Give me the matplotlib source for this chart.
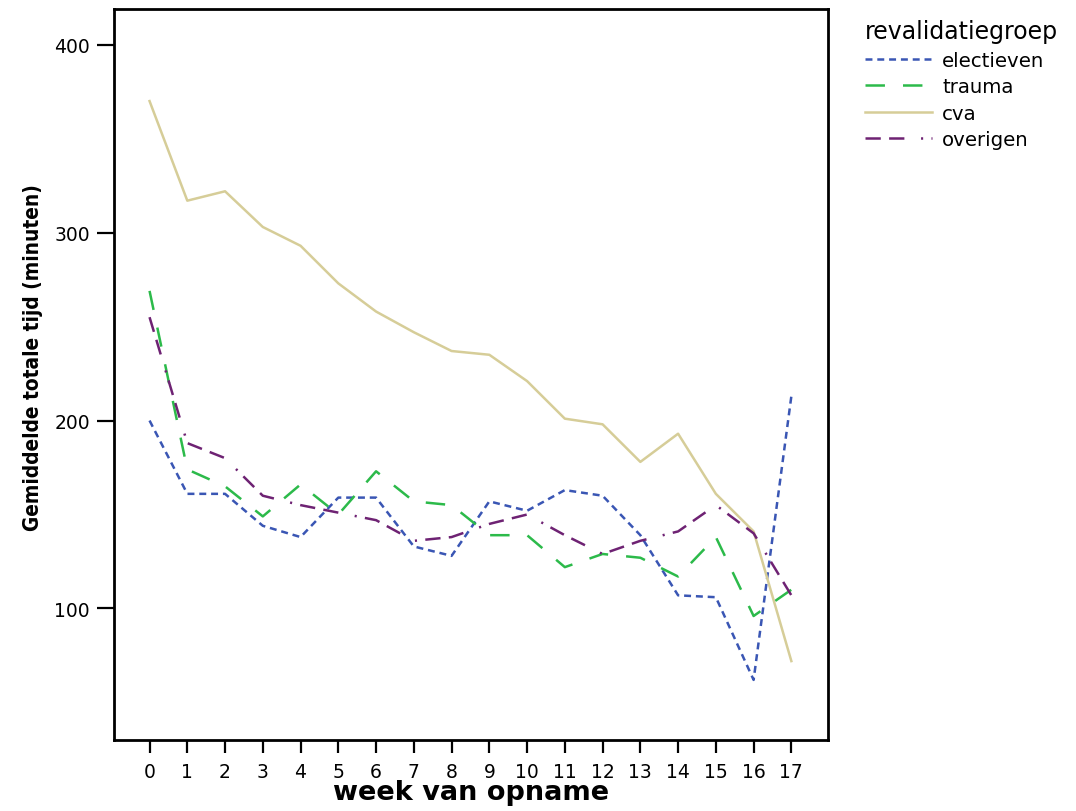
from matplotlib import font_manager
import matplotlib.pyplot as plt


WEEKS = list(range(18))
GROUPS = ['electieven', 'trauma', 'cva', 'overigen']

electieven = [200, 161, 161, 144, 138, 159, 159, 133, 128, 157,
              152, 163, 160, 139, 107, 106, 62, 213]
trauma = [269, 174, 165, 149, 166, 150, 173, 157, 155, 139,
          139, 122, 129, 127, 117, 138, 96, 110]
cva = [370, 317, 322, 303, 293, 273, 258, 247, 237, 235,
       221, 201, 198, 178, 193, 161, 141, 72]
overigen = [255, 188, 180, 160, 155, 151, 147, 136, 138, 145,
            150, 139, 129, 136, 141, 155, 140, 107]

Y_TICKS = [100, 200, 300, 400]

COLORS = ['#3a56b4', '#2cba4a', '#d6cd98', '#6e2273']
# dash patterns in points (scale_dashes is switched off)
DASHES = [(0, (5, 3.5)), (0, (14, 13)), '-', (0, (11, 6, 11, 12, 1.5, 6))]

YLABEL_LENGTH = 347  # pixels, as measured on the original


def _ylabel_font():
    # the original label is a narrow bold face; use one if there is one
    for f in font_manager.fontManager.ttflist:
        if 'Narrow' in f.name or 'Condensed' in f.name:
            return dict(family=f.name, fontsize=20)
        if f.name == 'DejaVu Sans' and f.stretch == 'condensed':
            return dict(family='DejaVu Sans', fontstretch='condensed',
                        fontsize=17)
    return dict(family='Liberation Sans', fontsize=16.3)


def create_plot():
    plt.rcParams['font.family'] = ['DejaVu Sans']
    plt.rcParams['lines.scale_dashes'] = False

    fig = plt.figure(figsize=(10.76, 8.12), dpi=100)
    ax = fig.add_axes([0.106, 0.0874, 0.6635, 0.9003])

    series = [electieven, trauma, cva, overigen]
    lines = []
    for name, values, color, dash in zip(GROUPS, series, COLORS, DASHES):
        line, = ax.plot(WEEKS, values, color=color, linestyle=dash,
                        linewidth=1.8, label=name)
        lines.append(line)

    ax.set_xlim(-0.94, 17.97)
    ax.set_ylim(30, 419)
    ax.set_xticks(WEEKS)
    ax.set_yticks(Y_TICKS)
    ax.tick_params(axis='x', length=9.5, width=1.6, pad=6, labelsize=13.5)
    ax.tick_params(axis='y', length=12.5, width=1.6, pad=5, labelsize=13.5)
    for spine in ax.spines.values():
        spine.set_linewidth(2)

    ax.set_xlabel('week van opname', fontsize=19.5, fontweight='bold',
                  labelpad=-1)
    ylabel = ax.set_ylabel('Gemiddelde totale tijd (minuten)',
                           fontweight='bold', **_ylabel_font())
    ax.yaxis.set_label_coords(-0.0995, 0.525)

    # scale the label so it spans the same length as in the original
    renderer = fig.canvas.get_renderer()
    height = ylabel.get_window_extent(renderer).height
    ylabel.set_fontsize(ylabel.get_fontsize() * YLABEL_LENGTH / height)

    legend = fig.legend(handles=lines, loc='upper left',
                        bbox_to_anchor=(0.7876, 0.997), frameon=False,
                        title='revalidatiegroep', title_fontsize=17,
                        fontsize=14.2, handlelength=3.4,
                        handletextpad=0.5, labelspacing=0.38)
    legend._legend_box.align = 'left'

    plt.savefig('out.png', dpi=100)


if __name__ == '__main__':
    create_plot()
